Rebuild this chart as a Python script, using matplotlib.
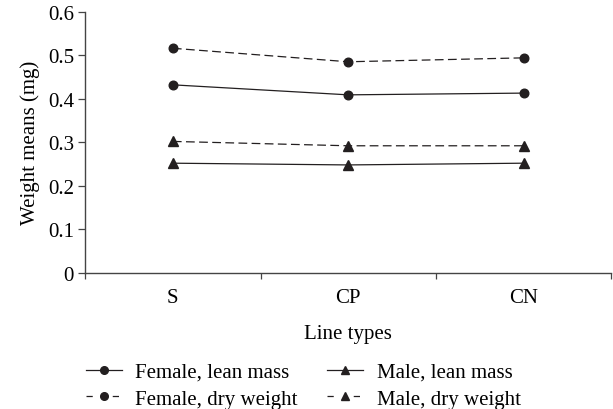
import matplotlib
matplotlib.use("Agg")
import matplotlib.pyplot as plt
from matplotlib.ticker import FixedLocator
from matplotlib.lines import Line2D

plt.rcParams['font.family'] = ['Liberation Serif', 'DejaVu Serif']

categories = ["S", "CP", "CN"]
female_lean = [0.432, 0.409, 0.413]
female_dry = [0.516, 0.485, 0.494]
male_lean = [0.252, 0.248, 0.252]
male_dry = [0.302, 0.292, 0.292]
yticks = [0, 0.1, 0.2, 0.3, 0.4, 0.5, 0.6]
ytick_labels = ["0", "0.1", "0.2", "0.3", "0.4", "0.5", "0.6"]
labels = ["Female, lean mass", "Female, dry weight", "Male, lean mass", "Male, dry weight"]

fig = plt.figure(figsize=(6.13, 4.10), dpi=100)
ax = fig.add_axes([0.139, 0.332, 0.858, 0.637])
x = list(range(len(categories)))
c = '#231f20'
lw = 0.9
dash = (7, 3.5)
ax.plot(x, female_lean, '-', marker='o', color=c, lw=lw, ms=6.2)
ax.plot(x, female_dry, '--', marker='o', color=c, lw=lw, ms=6.2, dashes=dash)
ax.plot(x, male_lean, '-', marker='^', color=c, lw=lw, ms=6.5)
ax.plot(x, male_dry, '--', marker='^', color=c, lw=lw, ms=6.5, dashes=dash)

ax.set_xlim(-0.5, len(categories) - 0.5)
ax.set_ylim(0, 0.6)
ax.set_yticks(yticks)
ax.set_yticklabels(ytick_labels)
ax.set_xticks(x)
ax.set_xticklabels(categories)
ax.xaxis.set_minor_locator(FixedLocator([i - 0.5 for i in range(len(categories) + 1)]))
ax.tick_params(axis='x', which='major', length=0, pad=11, labelsize=15)
ax.tick_params(axis='x', which='minor', length=4, direction='out', width=0.9, color='#444444')
ax.tick_params(axis='y', length=5, direction='out', width=0.9, labelsize=15, pad=3, color='#444444')
for s in ['top', 'right']:
    ax.spines[s].set_visible(False)
for s in ['left', 'bottom']:
    ax.spines[s].set_linewidth(1.0)
    ax.spines[s].set_color('#444444')
ax.set_ylabel("Weight means (mg)", fontsize=15, labelpad=6)
ax.set_xlabel("Line types", fontsize=15, labelpad=12)

# legend proxies: "-•-" style for dashed entries
ld = (5, 16)
h1 = Line2D([], [], color=c, lw=lw, marker='o', ms=5.5, ls='-')
h2 = Line2D([], [], color=c, lw=lw, marker='o', ms=5.5, ls='--', dashes=ld)
h3 = Line2D([], [], color=c, lw=lw, marker='^', ms=6, ls='-')
h4 = Line2D([], [], color=c, lw=lw, marker='^', ms=6, ls='--', dashes=ld)
fig.legend(handles=[h1, h2, h3, h4], labels=labels, ncol=2, loc='upper left',
           bbox_to_anchor=(0.140, 0.114), frameon=False, fontsize=15,
           handlelength=1.73, columnspacing=1.4, handletextpad=0.65,
           labelspacing=0.35, borderpad=0, borderaxespad=0)
fig.savefig("out.png", dpi=100)
